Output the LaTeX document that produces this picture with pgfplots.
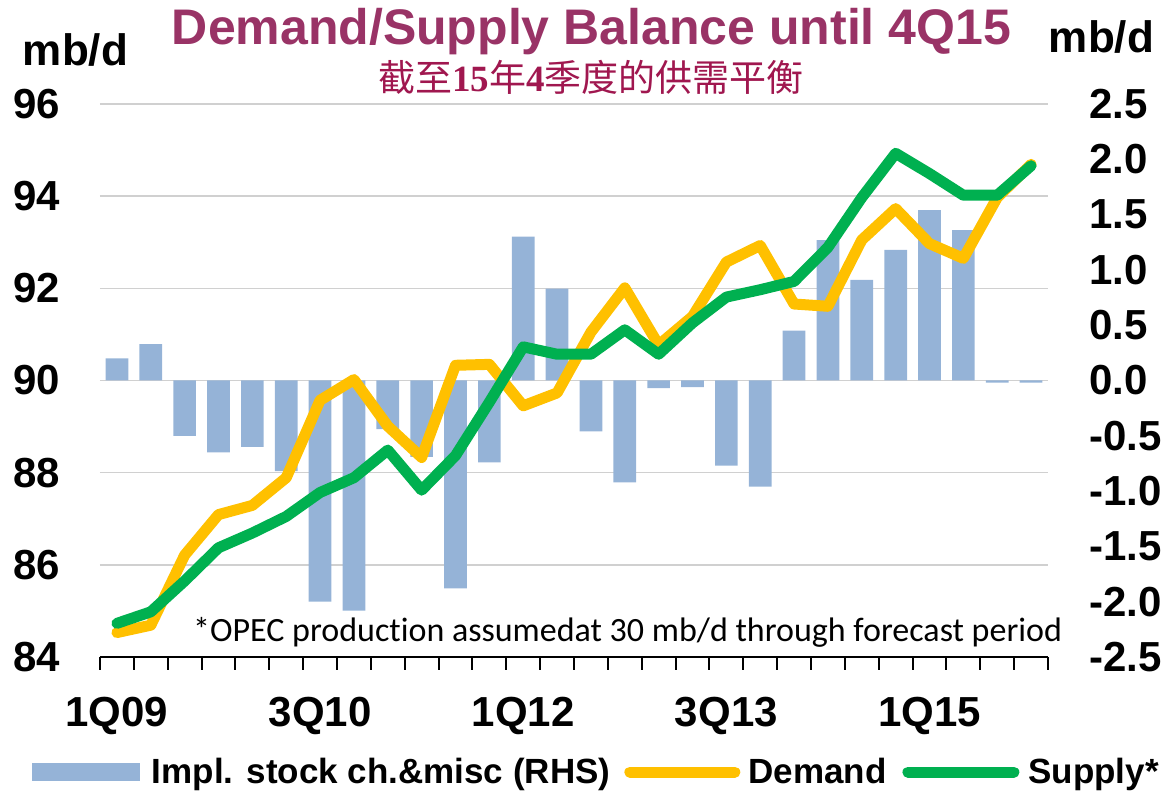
\documentclass[border=0pt]{standalone}
\usepackage{fontspec}
\setmainfont{Liberation Sans}
\newfontfamily\calibri{Carlito}[Ligatures={NoCommon}]
\newfontfamily\cjk{Noto Sans CJK SC}
\newfontfamily\timesf{Liberation Serif}
\usepackage{pgfplots}
\pgfplotsset{compat=1.18}
\definecolor{barblue}{HTML}{95B3D7}
\definecolor{demandyellow}{HTML}{FFC000}
\definecolor{supplygreen}{HTML}{00B050}
\definecolor{gridgray}{HTML}{D0D0D0}
\definecolor{titlecol}{HTML}{993366}
\definecolor{subcol}{HTML}{A0174F}
\newcommand{\tickfont}{\fontsize{42pt}{42pt}\selectfont\bfseries}
\newcommand{\legfont}{\fontsize{35pt}{35pt}\selectfont\bfseries}
\begin{document}
\begin{tikzpicture}
% ---------- axis A: grid, left labels, x axis ----------
\begin{axis}[
  at={(0pt,0pt)}, anchor=south west,
  scale only axis, width=948pt, height=553pt,
  xmin=-0.5, xmax=27.5, ymin=84, ymax=96,
  /pgf/number format/assume math mode=true,
  axis x line*=bottom, axis y line*=left,
  y axis line style={draw=none},
  x axis line style={line width=2.5pt, black},
  ytick={84,86,...,96},
  ymajorgrids, grid style={gridgray, line width=1.5pt},
  ytick style={draw=none},
  yticklabel style={font=\tickfont, anchor=east, inner sep=0pt, xshift=-40pt},
  xtick={0,6,12,18,24},
  xticklabels={1Q09,3Q10,1Q12,3Q13,1Q15},
  minor xtick={-0.5,0.5,...,27.5},
  xtick align=outside,
  major tick length=0pt, minor tick length=13pt,
  minor x tick style={black, line width=2pt},
  major x tick style={draw=none},
  xticklabel style={font=\tickfont, anchor=base, inner sep=0pt, yshift=-70pt},
]
\addplot[draw=none] coordinates {(0,90)};
\end{axis}
% ---------- axis B: bars on right axis ----------
\begin{axis}[
  at={(0pt,0pt)}, anchor=south west,
  scale only axis, width=948pt, height=553pt,
  xmin=-0.5, xmax=27.5, ymin=-2.5, ymax=2.5,
  /pgf/number format/assume math mode=true,
  axis x line=none, axis y line*=right,
  y axis line style={draw=none},
  ytick={-2.5,-2,...,2.5},
  ytick style={draw=none},
  yticklabel style={font=\tickfont, anchor=west, inner sep=0pt, xshift=41pt,
    /pgf/number format/.cd, fixed, fixed zerofill, precision=1},
]
\addplot[ybar, bar width=22.7pt, fill=barblue, draw=none] coordinates {
(0,0.20) (1,0.33) (2,-0.50) (3,-0.65) (4,-0.60) (5,-0.82) (6,-2.00)
(7,-2.08) (8,-0.44) (9,-0.69) (10,-1.88) (11,-0.74) (12,1.30) (13,0.83)
(14,-0.46) (15,-0.92) (16,-0.07) (17,-0.06) (18,-0.77) (19,-0.96) (20,0.45)
(21,1.27) (22,0.91) (23,1.18) (24,1.54) (25,1.36) (26,-0.02) (27,-0.02)};
\end{axis}
% ---------- axis C: lines + legend ----------
\begin{axis}[
  at={(0pt,0pt)}, anchor=south west,
  scale only axis, width=948pt, height=553pt,
  xmin=-0.5, xmax=27.5, ymin=84, ymax=96,
  hide axis,
  legend columns=3,
  legend cell align=left,
  legend style={draw=none, fill=none, inner sep=0pt, outer sep=0pt,
    column sep=0pt, row sep=0pt, nodes={inner sep=0pt, font=\legfont},
    at={(axis description cs:-0.07173,-0.20796)}, anchor=west},
]
\addlegendimage{legend image code/.code={
  \path[draw=none, fill=none] (0pt,-9pt) rectangle (120pt,9pt);
  \fill[barblue, draw=none] (0pt,-9pt) rectangle (108pt,9pt);}}
\addplot[demandyellow, line width=11pt, line join=round, line cap=round,
  legend image code/.code={
  \path[draw=none, fill=none] (0pt,-9pt) rectangle (138pt,9pt);
  \draw[demandyellow, line width=11pt, line cap=round] (19.5pt,0pt) -- (124.5pt,0pt);}]
  coordinates {
(0,84.53) (1,84.69) (2,86.21) (3,87.09) (4,87.29) (5,87.89) (6,89.57)
(7,90.02) (8,89.01) (9,88.33) (10,90.33) (11,90.35) (12,89.45) (13,89.73)
(14,91.05) (15,92.01) (16,90.77) (17,91.39) (18,92.57) (19,92.93) (20,91.66)
(21,91.61) (22,93.05) (23,93.73) (24,92.97) (25,92.65) (26,93.97) (27,94.69)};
\addplot[supplygreen, line width=11pt, line join=round, line cap=round,
  legend image code/.code={
  \path[draw=none, fill=none] (0pt,-9pt) rectangle (142pt,9pt);
  \draw[supplygreen, line width=11pt, line cap=round] (21.5pt,0pt) -- (127.5pt,0pt);}]
  coordinates {
(0,84.73) (1,84.98) (2,85.65) (3,86.37) (4,86.69) (5,87.05) (6,87.57)
(7,87.89) (8,88.49) (9,87.62) (10,88.37) (11,89.53) (12,90.73) (13,90.57)
(14,90.57) (15,91.10) (16,90.57) (17,91.25) (18,91.81) (19,91.97) (20,92.15)
(21,92.89) (22,93.97) (23,94.93) (24,94.49) (25,94.02) (26,94.02) (27,94.66)};
\legend{Impl. stock ch.\&misc (RHS),Demand,Supply*}
\end{axis}
% ---------- texts ----------
\node[anchor=base, inner sep=0pt, text=titlecol, font=\fontsize{50pt}{50pt}\selectfont\bfseries]
  at (491.5pt,612pt) {Demand/Supply Balance until 4Q15};
\node[anchor=base, inner sep=0pt, text=subcol, font=\fontsize{37pt}{37pt}\selectfont]
  at (491pt,565pt) {{\cjk 截至}{\timesf\bfseries 15}{\cjk 年}{\timesf\bfseries 4}{\cjk 季度的供需平衡}};
\node[anchor=base, inner sep=0pt, font=\fontsize{44pt}{44pt}\selectfont\bfseries]
  at (-24.5pt,591pt) {mb/d};
\node[anchor=base, inner sep=0pt, font=\fontsize{44pt}{44pt}\selectfont\bfseries]
  at (1001.5pt,604pt) {mb/d};
\node[anchor=base west, inner sep=0pt, font=\fontsize{34pt}{34pt}\selectfont\calibri]
  at (93pt,15pt) {*OPEC production assumedat 30 mb/d through forecast period};
\pgfresetboundingbox
\useasboundingbox (-100pt,-135pt) rectangle (1070pt,657pt);
\end{tikzpicture}
\end{document}
